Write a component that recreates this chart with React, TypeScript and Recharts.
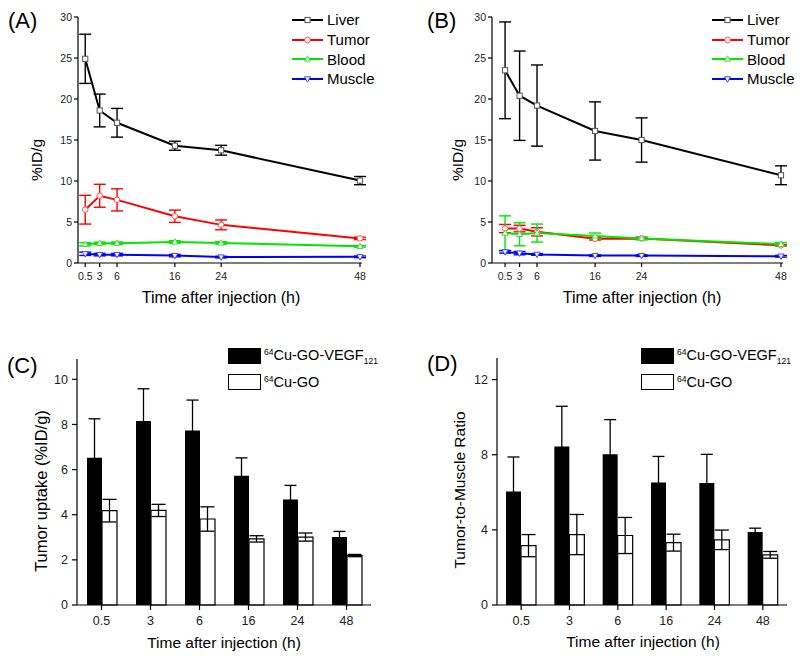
import React from 'react';
import {
  LineChart, Line, XAxis, YAxis, ErrorBar, Legend, BarChart, Bar,
} from 'recharts';

const FONT = '"Liberation Sans", Arial, Helvetica, sans-serif';

// ---------- data ----------
const times = [0.5, 3, 6, 16, 24, 48];
const timeLabels = ['0.5', '3', '6', '16', '24', '48'];

// Panel A (64Cu-GO-VEGF121 biodistribution)
const liverA = [24.9, 18.6, 17.1, 14.3, 13.75, 10.05];
const liverAErr = [3.0, 2.0, 1.75, 0.55, 0.6, 0.5];
const tumorA = [6.5, 8.2, 7.7, 5.7, 4.65, 3.0];
const tumorAErr = [1.75, 1.4, 1.35, 0.75, 0.6, 0.15];
const bloodA = [2.28, 2.4, 2.42, 2.57, 2.45, 2.03];
const bloodAErr = [0.2, 0.15, 0.15, 0.15, 0.15, 0.1];
const muscleA = [1.12, 1.02, 1.02, 0.9, 0.72, 0.75];
const muscleAErr = [0.2, 0.15, 0.15, 0.15, 0.1, 0.1];

// Panel B (64Cu-GO biodistribution)
const liverB = [23.5, 20.4, 19.2, 16.1, 15.0, 10.7];
const liverBErr = [5.9, 5.45, 4.95, 3.55, 2.7, 1.15];
const tumorB = [4.2, 4.2, 3.8, 2.95, 3.0, 2.15];
const tumorBErr = [0.5, 0.4, 0.5, 0.15, 0.15, 0.1];
const bloodB = [3.65, 3.5, 3.65, 3.3, 3.0, 2.3];
const bloodBErr = [2.1, 1.4, 1.1, 0.35, 0.15, 0.2];
const muscleB = [1.35, 1.2, 1.05, 0.9, 0.9, 0.82];
const muscleBErr = [0.15, 0.2, 0.1, 0.1, 0.1, 0.1];

// Panel C (tumor uptake)
const uptakeVegf = [6.52, 8.15, 7.73, 5.73, 4.67, 3.01];
const uptakeVegfErr = [1.73, 1.43, 1.35, 0.79, 0.63, 0.25];
const uptakeGo = [4.18, 4.19, 3.81, 2.93, 3.01, 2.19];
const uptakeGoErr = [0.5, 0.27, 0.54, 0.14, 0.18, 0.05];

// Panel D (tumor-to-muscle ratio)
const ratioVegf = [6.04, 8.44, 8.02, 6.52, 6.49, 3.88];
const ratioVegfErr = [1.84, 2.14, 1.85, 1.39, 1.53, 0.21];
const ratioGo = [3.16, 3.75, 3.7, 3.32, 3.47, 2.67];
const ratioGoErr = [0.59, 1.07, 0.96, 0.45, 0.52, 0.18];

const yTicksLine = [0, 5, 10, 15, 20, 25, 30];
const yTicksC = [0, 2, 4, 6, 8, 10];
const yTicksD = [0, 4, 8, 12];

// ---------- builders ----------
const buildLineData = (lv: number[], lvE: number[], tu: number[], tuE: number[], bl: number[], blE: number[], mu: number[], muE: number[]) =>
  times.map((t, i) => ({
    t,
    liver: lv[i], liverErr: lvE[i],
    tumor: tu[i], tumorErr: tuE[i],
    blood: bl[i], bloodErr: blE[i],
    muscle: mu[i], muscleErr: muE[i],
  }));

const dataA = buildLineData(liverA, liverAErr, tumorA, tumorAErr, bloodA, bloodAErr, muscleA, muscleAErr);
const dataB = buildLineData(liverB, liverBErr, tumorB, tumorBErr, bloodB, bloodBErr, muscleB, muscleBErr);

const buildBarData = (a: number[], aE: number[], b: number[], bE: number[]) =>
  timeLabels.map((label, i) => ({ label, vegf: a[i], vegfErr: aE[i], go: b[i], goErr: bE[i] }));

const dataC = buildBarData(uptakeVegf, uptakeVegfErr, uptakeGo, uptakeGoErr);
const dataD = buildBarData(ratioVegf, ratioVegfErr, ratioGo, ratioGoErr);

type Marker = 'square' | 'circle' | 'up' | 'down';
const series: { key: string; name: string; color: string; markerStroke: string; marker: Marker }[] = [
  { key: 'liver', name: 'Liver', color: '#000000', markerStroke: '#555555', marker: 'square' },
  { key: 'tumor', name: 'Tumor', color: '#ff0000', markerStroke: '#ff5050', marker: 'circle' },
  { key: 'blood', name: 'Blood', color: '#00e600', markerStroke: '#40e040', marker: 'up' },
  { key: 'muscle', name: 'Muscle', color: '#0000ff', markerStroke: '#4040ff', marker: 'down' },
];

const markerShape = (m: Marker, cx: number, cy: number, stroke: string) => {
  switch (m) {
    case 'square':
      return <rect x={cx - 2.6} y={cy - 2.6} width={5.2} height={5.2} fill="#fff" stroke={stroke} strokeWidth={1} />;
    case 'circle':
      return <circle cx={cx} cy={cy} r={2.8} fill="#fff" stroke={stroke} strokeWidth={1} />;
    case 'up':
      return <polygon points={`${cx},${cy - 3.2} ${cx - 3},${cy + 2.2} ${cx + 3},${cy + 2.2}`} fill="#fff" stroke={stroke} strokeWidth={1} />;
    default:
      return <polygon points={`${cx},${cy + 3.2} ${cx - 3},${cy - 2.2} ${cx + 3},${cy - 2.2}`} fill="#fff" stroke={stroke} strokeWidth={1} />;
  }
};

const makeDot = (m: Marker, stroke: string) => (props: any) => {
  const { cx, cy, index } = props;
  if (cx == null || cy == null) return <g key={`d-${index}`} />;
  return <g key={`d-${index}`}>{markerShape(m, cx, cy, stroke)}</g>;
};

const LineLegend = () => (
  <div style={{ fontFamily: FONT, fontSize: 15, color: '#000' }}>
    {series.map((s) => (
      <div key={s.key} style={{ display: 'flex', alignItems: 'center', height: 19.7 }}>
        <svg width={31} height={10} style={{ display: 'block' }}>
          <line x1={0} y1={5} x2={31} y2={5} stroke={s.color} strokeWidth={2} />
          {markerShape(s.marker, 15.5, 5, s.markerStroke)}
        </svg>
        <span style={{ marginLeft: 4, lineHeight: '19px' }}>{s.name}</span>
      </div>
    ))}
  </div>
);

const BarLegend = () => (
  <div style={{ fontFamily: FONT, fontSize: 14.5, color: '#000' }}>
    <div style={{ display: 'flex', alignItems: 'center', height: 26 }}>
      <div style={{ width: 33, height: 16, background: '#000', border: '1px solid #000', boxSizing: 'border-box' }} />
      <span style={{ marginLeft: 3, whiteSpace: 'nowrap' }}>
        <span style={{ fontSize: 8.5, verticalAlign: 5 }}>64</span>Cu-GO-VEGF
        <span style={{ fontSize: 8.5, verticalAlign: -4 }}>121</span>
      </span>
    </div>
    <div style={{ display: 'flex', alignItems: 'center', height: 26 }}>
      <div style={{ width: 33, height: 16, background: '#fff', border: '1.3px solid #000', boxSizing: 'border-box' }} />
      <span style={{ marginLeft: 3, whiteSpace: 'nowrap' }}>
        <span style={{ fontSize: 8.5, verticalAlign: 5 }}>64</span>Cu-GO
      </span>
    </div>
  </div>
);

const axisProps = {
  stroke: '#000',
  axisLine: { stroke: '#000', strokeWidth: 1.2 },
  tickLine: { stroke: '#000', strokeWidth: 1.2 },
};

type LinePanelProps = {
  data: any[];
  domainX: [number, number];
  left: number;
  right: number;
  legendLeft: number;
};

const LinePanel = ({ data, domainX, left, right, legendLeft }: LinePanelProps) => (
  <LineChart width={400} height={320} data={data} margin={{ top: 17, right, bottom: 0, left: 0 }}>
    <XAxis
      type="number"
      dataKey="t"
      domain={domainX}
      ticks={times}
      height={57}
      tickSize={4}
      tickMargin={6}
      tick={{ fontSize: 10.5, fill: '#222', fontFamily: FONT }}
      {...axisProps}
    />
    <YAxis
      type="number"
      domain={[0, 30]}
      ticks={yTicksLine}
      width={left}
      tickSize={4}
      tickMargin={2}
      tick={{ fontSize: 10.5, fill: '#222', fontFamily: FONT }}
      {...axisProps}
    />
    <Legend
      layout="vertical"
      align="center"
      verticalAlign="middle"
      wrapperStyle={{ left: legendLeft, top: 10, width: 110 }}
      content={() => <LineLegend />}
    />
    {series.map((s) => (
      <Line
        key={s.key}
        type="linear"
        dataKey={s.key}
        name={s.name}
        stroke={s.color}
        strokeWidth={2}
        dot={makeDot(s.marker, s.markerStroke)}
        activeDot={false}
        isAnimationActive={false}
      >
        <ErrorBar dataKey={`${s.key}Err`} width={6} stroke={s.color} strokeWidth={1.4} direction="y" />
      </Line>
    ))}
  </LineChart>
);

type BarPanelProps = {
  data: any[];
  domainY: [number, number];
  ticks: number[];
  left: number;
  right: number;
  top: number;
  legendLeft: number;
};

const BarPanel = ({ data, domainY, ticks, left, right, top, legendLeft }: BarPanelProps) => (
  <BarChart width={400} height={336} data={data} margin={{ top, right, bottom: 0, left: 0 }} barGap={0}>
    <XAxis
      type="category"
      dataKey="label"
      height={51}
      tickSize={5}
      tickMargin={6}
      tick={{ fontSize: 12.5, fill: '#222', fontFamily: FONT }}
      {...axisProps}
    />
    <YAxis
      type="number"
      domain={domainY}
      ticks={ticks}
      width={left}
      tickSize={5}
      tickMargin={4}
      tick={{ fontSize: 12.5, fill: '#222', fontFamily: FONT }}
      {...axisProps}
    />
    <Legend
      layout="vertical"
      align="center"
      verticalAlign="middle"
      wrapperStyle={{ left: legendLeft, top: 23, width: 150 }}
      content={() => <BarLegend />}
    />
    <Bar dataKey="vegf" name="64Cu-GO-VEGF121" fill="#000" barSize={15} isAnimationActive={false}>
      <ErrorBar dataKey="vegfErr" width={6} stroke="#000" strokeWidth={1.3} direction="y" />
    </Bar>
    <Bar dataKey="go" name="64Cu-GO" fill="#fff" stroke="#000" strokeWidth={1.2} barSize={15} isAnimationActive={false}>
      <ErrorBar dataKey="goErr" width={7} stroke="#000" strokeWidth={1.3} direction="y" />
    </Bar>
  </BarChart>
);

const textStyle = { fontFamily: FONT, fill: '#000' } as const;

export default function App() {
  return (
    <div style={{ position: 'absolute', left: 0, top: 0, width: 800, height: 656, background: '#fff', overflow: 'hidden' }}>
      <div style={{ position: 'absolute', left: 0, top: 0 }}>
        <LinePanel data={dataA} domainX={[-0.75, 48.35]} left={78} right={38} legendLeft={292} />
      </div>
      <div style={{ position: 'absolute', left: 400, top: 0 }}>
        <LinePanel data={dataB} domainX={[-1.75, 48.35]} left={92} right={17} legendLeft={312} />
      </div>
      <div style={{ position: 'absolute', left: 0, top: 320 }}>
        <BarPanel data={dataC} domainY={[0, 10.9]} ticks={yTicksC} left={77} right={29} top={39} legendLeft={228} />
      </div>
      <div style={{ position: 'absolute', left: 400, top: 320 }}>
        <BarPanel data={dataD} domainY={[0, 13.15]} ticks={yTicksD} left={97} right={13} top={38} legendLeft={241} />
      </div>
      <svg width={800} height={656} style={{ position: 'absolute', left: 0, top: 0, pointerEvents: 'none' }}>
        <text x={8} y={28} fontSize={22} {...textStyle}>(A)</text>
        <text x={427} y={28} fontSize={22} {...textStyle}>(B)</text>
        <text x={7} y={373} fontSize={22} {...textStyle}>(C)</text>
        <text x={427} y={371} fontSize={22} {...textStyle}>(D)</text>

        <text x={221} y={303} fontSize={16} textAnchor="middle" {...textStyle}>Time after injection (h)</text>
        <text x={642} y={303} fontSize={16} textAnchor="middle" {...textStyle}>Time after injection (h)</text>
        <text x={224} y={648} fontSize={15.5} textAnchor="middle" {...textStyle}>Time after injection (h)</text>
        <text x={643} y={647} fontSize={15.5} textAnchor="middle" {...textStyle}>Time after injection (h)</text>

        <text x={42} y={160} fontSize={15.5} textAnchor="middle" transform="rotate(-90 42 160)" {...textStyle}>%ID/g</text>
        <text x={463} y={160} fontSize={15.5} textAnchor="middle" transform="rotate(-90 463 160)" {...textStyle}>%ID/g</text>
        <text x={47} y={491} fontSize={16.5} textAnchor="middle" transform="rotate(-90 47 491)" {...textStyle}>Tumor uptake (%ID/g)</text>
        <text x={465} y={490} fontSize={15.5} textAnchor="middle" transform="rotate(-90 465 490)" {...textStyle}>Tumor-to-Muscle Ratio</text>
      </svg>
    </div>
  );
}
